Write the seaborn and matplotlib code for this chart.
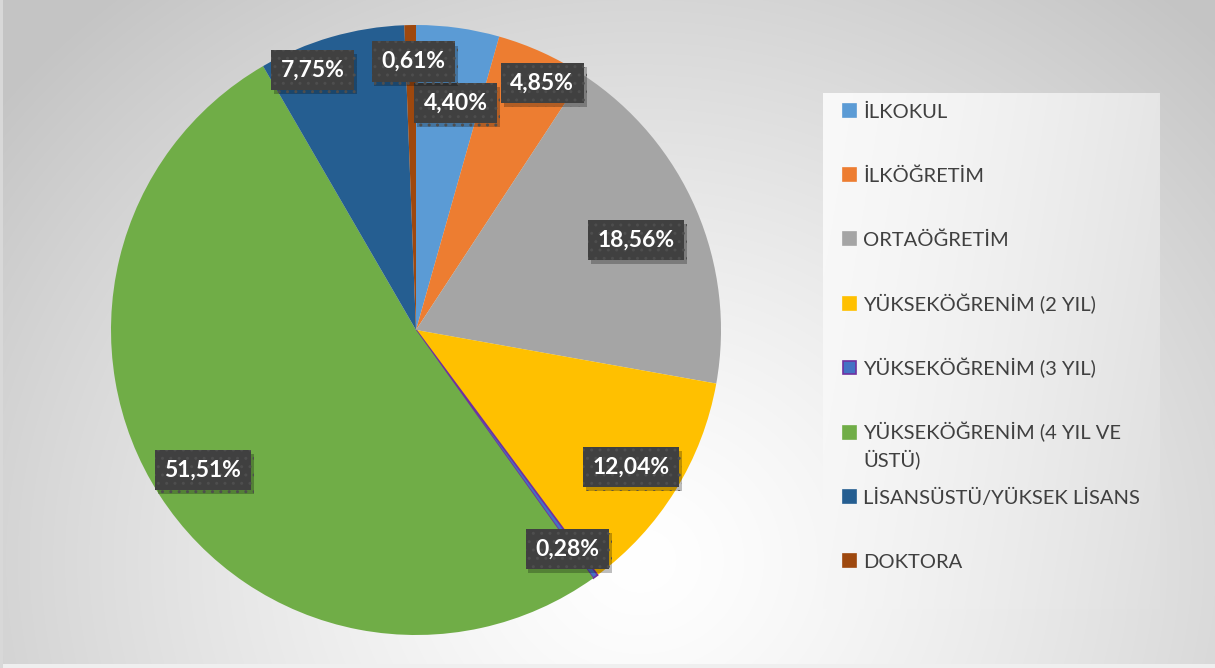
import numpy as np
import matplotlib.pyplot as plt
import matplotlib.patheffects as pe
import seaborn as sns

# education levels and their share (%)
categories = ['İLKOKUL', 'İLKÖĞRETİM', 'ORTAÖĞRETİM', 'YÜKSEKÖĞRENİM (2 YIL)',
              'YÜKSEKÖĞRENİM (3 YIL)', 'YÜKSEKÖĞRENİM (4 YIL VE\nÜSTÜ)',
              'LİSANSÜSTÜ/YÜKSEK LİSANS', 'DOKTORA']
shares = [4.40, 4.85, 18.56, 12.04, 0.28, 51.51, 7.75, 0.61]
pct_labels = ['4,40%', '4,85%', '18,56%', '12,04%', '0,28%', '51,51%', '7,75%', '0,61%']

colors = ['#5B9BD5', '#ED7D31', '#A5A5A5', '#FFC000', '#4472C4', '#70AD47', '#255E91', '#9E480E']
# label placement (radius fraction, angle nudge in degrees)
label_r = [0.755, 0.91, 0.78, 0.836, 0.872, 0.836, 0.917, 0.88]
label_da = [-2, -2.5, -1, -0.7, -1.4, 0.5, 5.5, -0.5]

sns.set_style('white')
plt.rcParams['font.family'] = ['Lato', 'DejaVu Sans']

W, H = 1215, 668
fig = plt.figure(figsize=(W / 100, H / 100), dpi=100)

# background gradient
bg = fig.add_axes([0, 0, 1, 1])
yy, xx = np.mgrid[0:H, 0:W]
d = np.sqrt(((xx - 640) / 1.0) ** 2 + ((yy - 560) / 0.9) ** 2) / 820
d = np.clip(d, 0, 1)
lum = 1.0 - 0.23 * d ** 1.3
img = np.dstack([lum, lum, lum])
img[H - 4:, :, :] = 0.94
img[:, :3, :] = 0.85
bg.imshow(img, extent=[0, W, H, 0], aspect='auto', interpolation='bilinear')

# legend panel
lx0, lx1, ly0, ly1 = 823, 1160, 93, 609
GX, GY = np.meshgrid(np.linspace(0, 1, 200), np.linspace(0, 1, 200))
pl = 0.975 - 0.10 * (0.8 * GX + 0.2 * GY) ** 1.4
bg.imshow(np.dstack([pl, pl, pl]), extent=[lx0, lx1, ly1, ly0], aspect='auto', zorder=2)
bg.set_xlim(0, W)
bg.set_ylim(H, 0)
bg.axis('off')

for i, (lab, col) in enumerate(zip(categories, colors)):
    yc = 110 + i * 64.4
    ec = '#7030A0' if i == 4 else col
    bg.add_patch(plt.Rectangle((843, yc - 6.5), 13, 13, facecolor=col, edgecolor=ec,
                               lw=1.2, zorder=3))
    for j, line in enumerate(lab.split('\n')):
        bg.text(863, yc + 7.5 + j * 27, line, fontsize=14.5, color='#404040',
                va='baseline', ha='left', zorder=3)

# pie
cx, cy, R = 416, 330, 305
ax = fig.add_axes([(cx - R) / W, (H - cy - R) / H, 2 * R / W, 2 * R / H])
wedges, _ = ax.pie(shares, colors=colors, startangle=90, counterclock=False,
                   radius=1.0, wedgeprops=dict(linewidth=0))
wedges[4].set_edgecolor('#7030A0')
wedges[4].set_linewidth(1.2)
ax.set_xlim(-1, 1)
ax.set_ylim(-1, 1)
ax.set_aspect('equal')
ax.axis('off')

for w, lab, r, da in zip(wedges, pct_labels, label_r, label_da):
    ang = np.deg2rad((w.theta1 + w.theta2) / 2 + da)
    x, y = r * np.cos(ang), r * np.sin(ang)
    t = ax.text(x, y, lab, fontsize=16.5, fontweight='bold', color='white',
                ha='center', va='center', zorder=5,
                bbox=dict(boxstyle='square,pad=0.42', fc='#404040', ec='#4e4e4e',
                          lw=0, hatch='..'))
    t.get_bbox_patch().set_path_effects(
        [pe.SimplePatchShadow(offset=(2, -3), shadow_rgbFace='black', alpha=0.25),
         pe.Normal()])

fig.savefig('out.png', dpi=100)
